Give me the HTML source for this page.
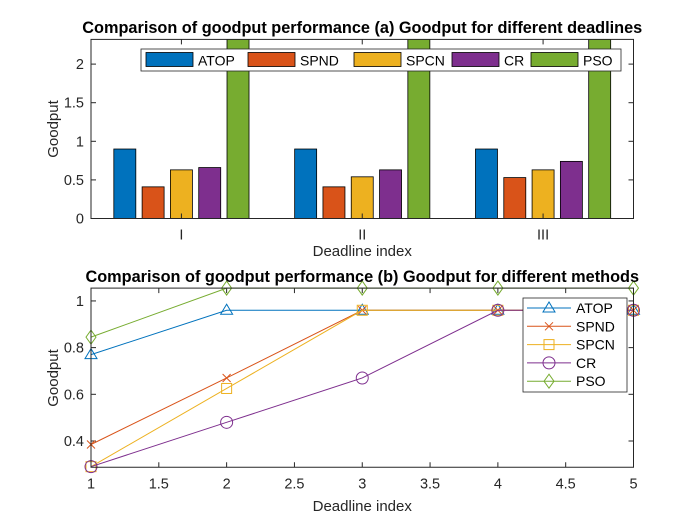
<!DOCTYPE html>
<html><head><meta charset="utf-8"><style>
body{margin:0;background:#fff;}
svg{display:block;font-family:"Liberation Sans",sans-serif;}
</style></head><body>
<svg id="c" width="700" height="525"></svg>
<script>
const groups=["I","II","III"];
const barSeries=["ATOP","SPND","SPCN","CR","PSO"];
const atopBars=[0.9,0.9,0.9];
const spndBars=[0.41,0.41,0.53];
const spcnBars=[0.63,0.54,0.63];
const crBars=[0.66,0.63,0.74];
const psoBars=[2.6,2.6,2.6];
const topTicks=[0,0.5,1,1.5,2];
const xLine=[1,2,3,4,5];
const atopLine=[0.77,0.96,0.96,0.96,0.96];
const spndLine=[0.385,0.67,0.96,0.96,0.96];
const spcnLine=[0.29,0.625,0.96,0.96,0.96];
const crLine=[0.29,0.48,0.67,0.96,0.96];
const psoLine=[0.845,1.055,1.055,1.055,1.055];
const botXTicks=[1,1.5,2,2.5,3,3.5,4,4.5,5];
const botYTicks=[0.4,0.6,0.8,1];
const colors=["#0072BD","#D95319","#EDB120","#7E2F8E","#77AC30"];
const NS="http://www.w3.org/2000/svg";
const svg=document.getElementById('c');
function mk(t,a,p){const e=document.createElementNS(NS,t);for(const k in a)e.setAttribute(k,a[k]);(p||svg).appendChild(e);return e;}
function txt(s,a,p){const e=mk('text',a,p);e.textContent=s;return e;}
const L=91,R=633.5;
const TF=14.5, TITLE=16.3, AX=15, LF=14;
// TOP
const tT=39.4,tB=218.5,tMax=2.32;
const tx=v=>L+(v-0.5)/3*(R-L);
const ty=v=>tB-v/tMax*(tB-tT);
const topG=mk('g',{});


mk('clipPath',{id:'ct'}).appendChild(mk('rect',{x:L,y:tT,width:R-L,height:tB-tT}));
mk('rect',{x:L,y:tT,width:R-L,height:tB-tT,fill:'#fff'},topG);
const bg=mk('g',{'clip-path':'url(#ct)'},topG);
const allBars=[atopBars,spndBars,spcnBars,crBars,psoBars];
const step=28.3;
allBars.forEach((arr,s)=>arr.forEach((v,i)=>{
 const cx=tx(i+1)+(s-2)*step;
 const r=mk('rect',{x:cx-11,y:ty(v),width:22,height:ty(0)-ty(v),fill:colors[s],stroke:'#000','stroke-width':0.8},bg);
 
 
}));
topTicks.forEach(v=>{const y=ty(v);
 mk('line',{x1:L,x2:L+5,y1:y,y2:y,stroke:'#262626'},topG);mk('line',{x1:R,x2:R-5,y1:y,y2:y,stroke:'#262626'},topG);
 const t=txt(String(v),{x:L-7,y:y+5,'text-anchor':'end','font-size':TF,fill:'#262626'},topG);
 
 });
groups.forEach((g,i)=>{const x=tx(i+1);
 mk('line',{x1:x,x2:x,y1:tB,y2:tB-5,stroke:'#262626'},topG);mk('line',{x1:x,x2:x,y1:tT,y2:tT+5,stroke:'#262626'},topG);
 const t=txt(g,{x:x,y:tB+21,'text-anchor':'middle','font-size':TF,fill:'#262626'},topG);
 
 });
mk('rect',{x:L,y:tT,width:R-L,height:tB-tT,fill:'none',stroke:'#262626','stroke-width':1},topG);
let e=txt('Comparison of goodput performance (a) Goodput for different deadlines',{x:(L+R)/2,y:33,'text-anchor':'middle','font-size':TITLE,'font-weight':'bold',fill:'#000'},topG);


e=txt('Deadline index',{x:(L+R)/2,y:256,'text-anchor':'middle','font-size':AX,fill:'#262626'},topG);


e=txt('Goodput',{x:0,y:0,'text-anchor':'middle','font-size':AX,fill:'#262626',transform:'translate(58,129) rotate(-90)'},topG);


const lg=mk('g',{},topG);


mk('rect',{x:141,y:49,width:480,height:22,fill:'#fff',stroke:'#262626','stroke-width':0.8},lg);
const lx=[146,248,354,452,531];
barSeries.forEach((s,i)=>{mk('rect',{x:lx[i],y:52.5,width:47,height:14,fill:colors[i],stroke:'#000','stroke-width':0.8},lg);
 const t=txt(s,{x:lx[i]+52,y:65.5,'font-size':LF,fill:'#000'},lg);
 
 });
// BOTTOM
const bT=288.1,bB=467.25,yMin=0.2875,yMax=1.055;
const bx=v=>L+(v-1)/4*(R-L);
const by=v=>bB-(v-yMin)/(yMax-yMin)*(bB-bT);
const botG=mk('g',{});


mk('rect',{x:L,y:bT,width:R-L,height:bB-bT,fill:'#fff'},botG);
botYTicks.forEach(v=>{const y=by(v);
 mk('line',{x1:L,x2:L+5,y1:y,y2:y,stroke:'#262626'},botG);mk('line',{x1:R,x2:R-5,y1:y,y2:y,stroke:'#262626'},botG);
 const t=txt(String(v),{x:L-7,y:y+5,'text-anchor':'end','font-size':TF,fill:'#262626'},botG);
 
 });
botXTicks.forEach(v=>{const x=bx(v);
 mk('line',{x1:x,x2:x,y1:bB,y2:bB-5,stroke:'#262626'},botG);mk('line',{x1:x,x2:x,y1:bT,y2:bT+5,stroke:'#262626'},botG);
 const t=txt(String(v),{x:x,y:bB+21,'text-anchor':'middle','font-size':TF,fill:'#262626'},botG);
 
 });
function marker(k,x,y,c,p){
 const a={fill:'none',stroke:c,'stroke-width':1};
 if(k==0)return mk('polygon',Object.assign({points:`${x},${y-6} ${x-6},${y+4} ${x+6},${y+4}`},a),p);
 if(k==1){const g=mk('g',a,p);mk('line',{x1:x-4,y1:y-4,x2:x+4,y2:y+4},g);mk('line',{x1:x-4,y1:y+4,x2:x+4,y2:y-4},g);return g;}
 if(k==2)return mk('rect',Object.assign({x:x-5,y:y-5,width:10,height:10},a),p);
 if(k==3)return mk('circle',Object.assign({cx:x,cy:y,r:6},a),p);
 return mk('polygon',Object.assign({points:`${x},${y-7} ${x+5},${y} ${x},${y+7} ${x-5},${y}`},a),p);
}
const allLines=[atopLine,spndLine,spcnLine,crLine,psoLine];
allLines.forEach((arr,s)=>{
 const g=mk('g',{},botG);
 
 
 mk('polyline',{points:arr.map((v,i)=>bx(xLine[i])+','+by(v)).join(' '),fill:'none',stroke:colors[s],'stroke-width':1},g);
 arr.forEach((v,i)=>marker(s,bx(xLine[i]),by(v),colors[s],g));
});
mk('rect',{x:L,y:bT,width:R-L,height:bB-bT,fill:'none',stroke:'#262626','stroke-width':1},botG);
e=txt('Comparison of goodput performance (b) Goodput for different methods',{x:(L+R)/2,y:282,'text-anchor':'middle','font-size':TITLE,'font-weight':'bold',fill:'#000'},botG);


e=txt('Deadline index',{x:(L+R)/2,y:511,'text-anchor':'middle','font-size':AX,fill:'#262626'},botG);


e=txt('Goodput',{x:0,y:0,'text-anchor':'middle','font-size':AX,fill:'#262626',transform:'translate(58,378) rotate(-90)'},botG);


const lg2=mk('g',{},botG);


mk('rect',{x:523,y:298,width:104,height:94,fill:'#fff',stroke:'#262626','stroke-width':0.8},lg2);
barSeries.forEach((s,i)=>{const y=308+i*18.3;
 mk('line',{x1:527,x2:571,y1:y,y2:y,stroke:colors[i]},lg2);marker(i,549,y,colors[i],lg2);
 const t=txt(s,{x:576,y:y+5,'font-size':LF,fill:'#000'},lg2);
 
 });
</script>
</body></html>
